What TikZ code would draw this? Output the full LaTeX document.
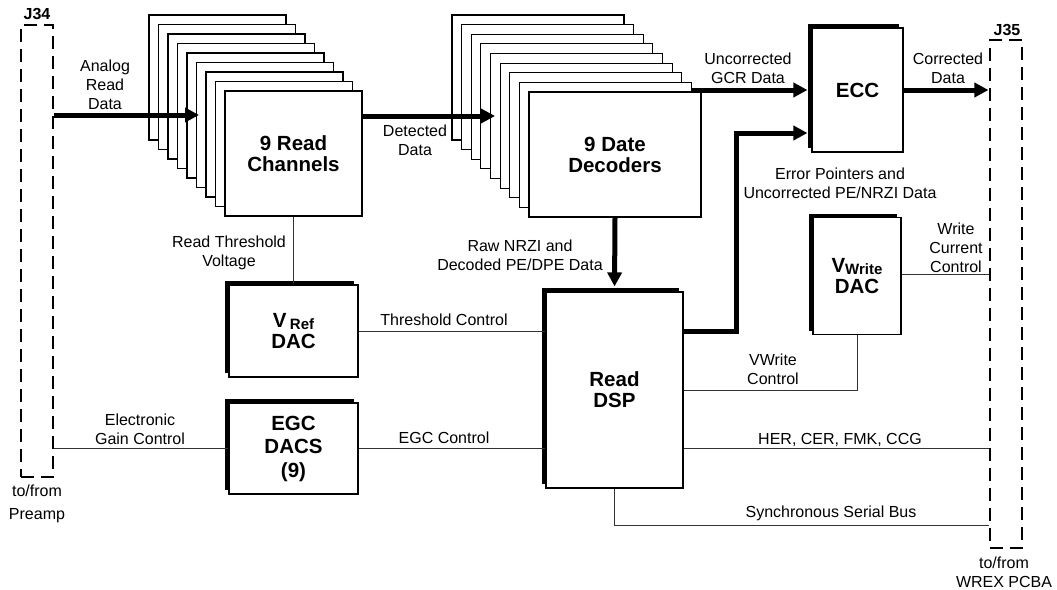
\documentclass[tikz,border=0pt]{standalone}
\usepackage{fontspec}
\setmainfont{Liberation Sans}
\usetikzlibrary{arrows.meta,shadows}

\tikzset{
  txt/.style={font=\fontsize{16}{19}\selectfont, align=center, inner sep=0pt},
  card/.style={draw, fill=white, line width=1.1pt, inner sep=0pt, align=center,
    font=\bfseries\fontsize{20.5}{21}\selectfont},
  chip/.style={card, drop shadow={shadow xshift=-4pt, shadow yshift=4pt, fill=black, opacity=1}},
  conn/.style={draw, dash pattern=on 13pt off 7pt, line width=1.1pt, inner sep=0pt},
  wire/.style={line width=1pt, black!80},
  bus/.style={line width=5pt, -{Triangle[length=14pt,width=14pt]}},
}

\begin{document}
\begin{tikzpicture}[x=1pt, y=-1pt]
    \useasboundingbox (0,0) rectangle (1057,589);

    % Connectors J34 and J35
    \node[conn, minimum width=32pt, minimum height=452pt] (j34) at (37,251) {};
    \node[conn, minimum width=32pt, minimum height=508pt] (j35) at (1006,294) {};
    \node[txt, font=\bfseries\fontsize{16}{19}\selectfont] (j34name) at (37,14) {J34};
    \node[txt, font=\bfseries\fontsize{16}{19}\selectfont] (j35name) at (1007,30) {J35};
    \node[txt, font=\fontsize{16}{23}\selectfont] (pre) at (37,503.5) {to/from\\Preamp};
    \node[txt] (wrex) at (1004,572.5) {to/from\\WREX PCBA};

    % Read channel stack
    \foreach \i in {0,...,7}
        \node[card, minimum width=137pt, minimum height=125pt] (rc\i) at (217.5+9.5*\i, 77.5+9.5*\i) {};
    \node[card, minimum width=137pt, minimum height=125pt] (chan) at (293.5,153.5) {9 Read\\Channels};

    % Decoder stack
    \foreach \i in {0,...,7}
        \node[card, minimum width=172pt, minimum height=125pt] (dec\i) at (538+9.625*\i, 77.5+9.625*\i) {};
    \node[card, minimum width=172pt, minimum height=125pt] (dec) at (615,154.5) {9 Date\\Decoders};

    % Blocks
    \node[chip, minimum width=91pt, minimum height=124pt] (ecc) at (857.5,90) {ECC};
    \node[chip, minimum width=129pt, minimum height=92pt] (vref) at (293.5,331)
        {V\,\raisebox{-2pt}{\fontsize{15}{15}\selectfont Ref}\\DAC};
    \node[chip, minimum width=129pt, minimum height=91pt, font=\bfseries\fontsize{20.5}{23.5}\selectfont]
        (egc) at (293.5,448.5) {EGC\\DACS\\(9)};
    \node[chip, minimum width=137pt, minimum height=196pt] (dsp) at (614.5,390) {Read\\DSP};
    \node[chip, minimum width=88pt, minimum height=117pt] (vw) at (857,276)
        {V\raisebox{-2pt}{\fontsize{15}{15}\selectfont Write}\\DAC};

    % Data paths
    \coordinate (ain) at (199,115);
    \coordinate (din) at (495,116);
    \coordinate (bend) at (736,331);
    \draw[bus] (j34.east |- ain) -- (ain);
    \draw[bus] (chan.east |- din) -- (din);
    \draw[bus, shorten >=4pt] (dec7.east |- ecc.west) -- (ecc.west);
    \draw[bus, shorten >=4pt] (dsp.east |- bend) -- (bend) |- ([yshift=-43pt]ecc.west);
    \draw[bus, shorten >=1pt] (ecc.east) -- (j35.west |- ecc.east);
    \draw[bus, shorten >=5pt] (dec.south) -- (dsp.north);

    % Control lines
    \coordinate (sync) at (614.5,525);
    \coordinate (wcur) at (990,274);
    \draw[wire] (chan.south) -- (vref.north);
    \draw[wire] (vref.east) -- (dsp.west |- vref.east);
    \draw[wire] (j34.east |- egc.west) -- (egc.west);
    \draw[wire] (egc.east) -- (dsp.west |- egc.east);
    \draw[wire] (vw.east |- wcur) -- (j35.west |- wcur);
    \draw[wire] (vw.south) |- (dsp.east);
    \draw[wire] (dsp.east |- egc.east) -- (j35.west |- egc.east);
    \draw[wire] (dsp.south) -- (sync) -- (j35.west |- sync);

    % Labels
    \node[txt] (l1) at (105,85) {Analog\\Read\\Data};
    \node[txt] (l2) at (415,140) {Detected\\Data};
    \node[txt] (l3) at (748,68) {Uncorrected\\GCR Data};
    \node[txt] (l4) at (948,68) {Corrected\\Data};
    \node[txt] (l5) at (840,183.5) {Error Pointers and\\Uncorrected PE/NRZI Data};
    \node[txt] (l6) at (520,255) {Raw NRZI and\\Decoded PE/DPE Data};
    \node[txt] (l7) at (229,252.5) {Read Threshold\\Voltage};
    \node[txt] (l8) at (444,320) {Threshold Control};
    \node[txt] (l9) at (140,429) {Electronic\\Gain Control};
    \node[txt] (l10) at (444,438) {EGC Control};
    \node[txt] (l11) at (773,369) {VWrite\\Control};
    \node[txt] (l12) at (840,440) {HER, CER, FMK, CCG};
    \node[txt] (l13) at (831,513) {Synchronous Serial Bus};
    \node[txt] (l14) at (956,248) {Write\\Current\\Control};
\end{tikzpicture}
\end{document}
